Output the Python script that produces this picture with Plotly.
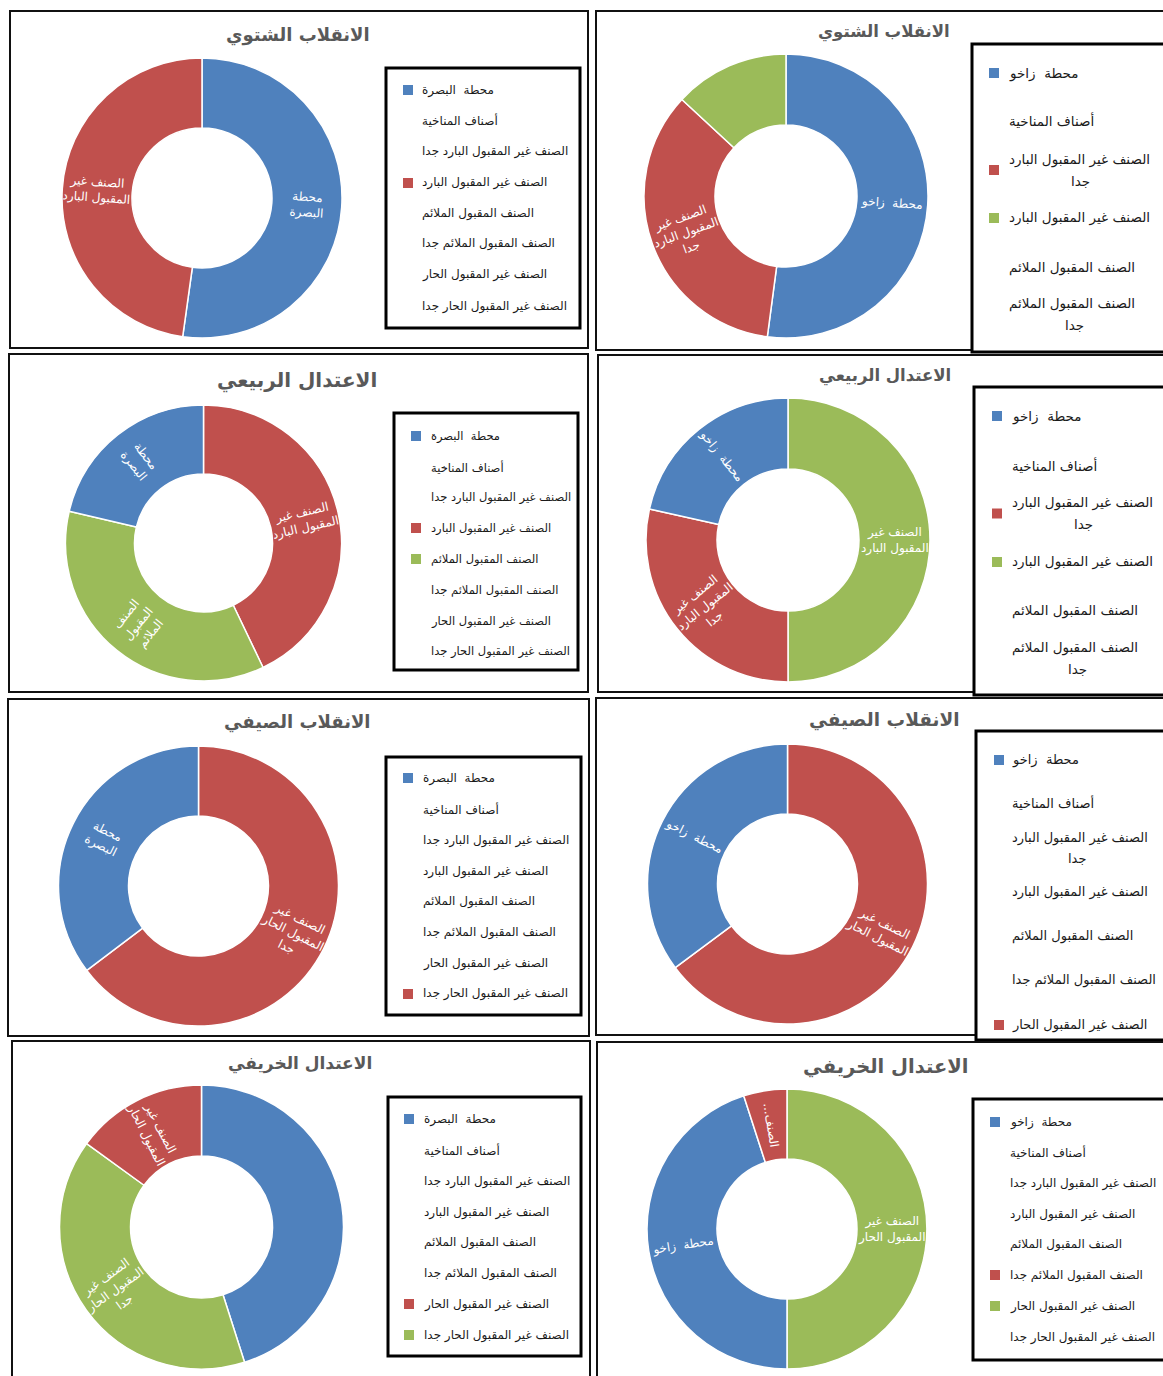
import math
import plotly.graph_objects as go

W, H = 1163, 1376
BLUE, RED, GREEN = "#4F81BD", "#C0504D", "#9BBB59"
FONT = "DejaVu Sans"

# ---------------- categories (legend order) ----------------
STATION_BASRA = "محطة  البصرة"
STATION_ZAKHO = "محطة  زاخو"
CLASS_HEADER = "أصناف المناخية"
VERY_COLD = "الصنف غير المقبول البارد جدا"
COLD = "الصنف غير المقبول البارد"
SUITABLE = "الصنف المقبول الملائم"
VERY_SUITABLE = "الصنف المقبول الملائم جدا"
HOT = "الصنف غير المقبول الحار"
VERY_HOT = "الصنف غير المقبول الحار جدا"
classes = [CLASS_HEADER, VERY_COLD, COLD, SUITABLE, VERY_SUITABLE, HOT, VERY_HOT]

# ---------------- titles ----------------
titles = ["الانقلاب الشتوي", "الانقلاب الشتوي",
          "الاعتدال الربيعي", "الاعتدال الربيعي",
          "الانقلاب الصيفي", "الانقلاب الصيفي",
          "الاعتدال الخريفي", "الاعتدال الخريفي"]
stations = [STATION_BASRA, STATION_ZAKHO] * 4

# ---------------- slice data (clockwise from 12 o'clock) ----------------
p1_labels = [STATION_BASRA, COLD]
p1_values = [52.2, 47.8]
p2_labels = [STATION_ZAKHO, VERY_COLD, COLD]
p2_values = [52.1, 34.8, 13.1]
p3_labels = [COLD, SUITABLE, STATION_BASRA]
p3_values = [42.9, 35.8, 21.3]
p4_labels = [COLD, VERY_COLD, STATION_ZAKHO]
p4_values = [50.0, 28.5, 21.5]
p5_labels = [VERY_HOT, STATION_BASRA]
p5_values = [64.7, 35.3]
p6_labels = [HOT, STATION_ZAKHO]
p6_values = [64.8, 35.2]
p7_labels = [STATION_BASRA, VERY_HOT, HOT]
p7_values = [45.1, 39.9, 15.0]
p8_labels = [HOT, STATION_ZAKHO, VERY_SUITABLE]
p8_values = [50.0, 45.0, 5.0]

# slice display texts
p1_text = ["محطة<br>البصرة", "الصنف غير<br>المقبول البارد"]
p2_text = ["محطة  زاخو", "الصنف غير<br>المقبول البارد<br>جدا", ""]
p3_text = ["الصنف غير<br>المقبول البارد", "الصنف<br>المقبول<br>الملائم", "محطة<br>البصرة"]
p4_text = ["الصنف غير<br>المقبول البارد", "الصنف غير<br>المقبول البارد<br>جدا", "محطة  زاخو"]
p5_text = ["الصنف غير<br>المقبول الحار<br>جدا", "محطة<br>البصرة"]
p6_text = ["الصنف غير<br>المقبول الحار", "محطة  زاخو"]
p7_text = ["", "الصنف غير<br>المقبول الحار<br>جدا", "الصنف غير<br>المقبول الحار"]
p8_text = ["الصنف غير<br>المقبول الحار", "محطة  زاخو", "\u200fالصنف...\u200f"]

p_labels = [p1_labels, p2_labels, p3_labels, p4_labels, p5_labels, p6_labels, p7_labels, p8_labels]
p_values = [p1_values, p2_values, p3_values, p4_values, p5_values, p6_values, p7_values, p8_values]
p_text = [p1_text, p2_text, p3_text, p4_text, p5_text, p6_text, p7_text, p8_text]

# ---------------- styles ----------------
p_colors = [[BLUE, RED], [BLUE, RED, GREEN], [RED, GREEN, BLUE], [GREEN, RED, BLUE],
            [RED, BLUE], [RED, BLUE], [BLUE, GREEN, RED], [GREEN, BLUE, RED]]

# panel frame (x0, y0, x1, y1), donut centre & radius, title (x, y, size)
panels = [
    dict(frame=(10, 11, 588, 348), c=(202, 198), r=140, title=(298, 35, 18)),
    dict(frame=(596, 11, 1170, 350), c=(786, 196), r=142, title=(884, 32, 16.5)),
    dict(frame=(9, 354, 588, 692), c=(203.5, 543), r=138, title=(297, 380, 20)),
    dict(frame=(598, 355, 1170, 692), c=(788, 540), r=142, title=(885, 376, 16.5)),
    dict(frame=(8, 699, 589, 1036), c=(198.5, 886), r=140, title=(297, 722, 18)),
    dict(frame=(596, 698, 1170, 1035), c=(787.5, 884), r=140, title=(884, 720, 18.5)),
    dict(frame=(12, 1041, 590, 1380), c=(201.5, 1227), r=142, title=(300, 1063, 17)),
    dict(frame=(597, 1042, 1170, 1380), c=(787, 1229), r=140, title=(885, 1066, 19.5)),
]

# legend: box, marker x, text x, font size, rows [y | (y line1, y line2, x centre line2)]
legends = [
    dict(box=(386, 68, 580, 328), mx=403, tx=420, fs=12,
         rows=[90, 121, 152, 183, 214, 244, 275, 306]),
    dict(box=(972, 44, 1175, 352), mx=989, tx=1007, fs=13.5,
         rows=[73, 121, (159, 181, 1080), 218, 267, (304, 325, 1074)]),
    dict(box=(394, 413, 578, 670), mx=411, tx=429, fs=11.5,
         rows=[436, 467, 498, 528, 559, 590, 621, 651]),
    dict(box=(974, 387, 1175, 695), mx=992, tx=1010, fs=13.5,
         rows=[416, 465, (503, 524, 1083), 562, 610, (648, 669, 1077)]),
    dict(box=(386, 757, 581, 1015), mx=403, tx=421, fs=12,
         rows=[778, 809, 840, 871, 901, 932, 963, 994]),
    dict(box=(976, 731, 1175, 1040), mx=994, tx=1010, fs=13,
         rows=[760, 803, (838, 858, 1077), 892, 936, 980, 1025]),
    dict(box=(388, 1097, 581, 1356), mx=404, tx=422, fs=12,
         rows=[1119, 1150, 1181, 1212, 1242, 1273, 1304, 1335]),
    dict(box=(973, 1099, 1175, 1360), mx=990, tx=1008, fs=12,
         rows=[1122, 1152, 1183, 1214, 1244, 1275, 1306, 1337]),
]


def fx(x):
    return x / W


def fy(y):
    return 1 - y / H


fig = go.Figure()
shapes = []
annotations = []

for i in range(8):
    P = panels[i]
    cx, cy = P["c"]
    r = P["r"]
    labels, values, colors, texts = p_labels[i], p_values[i], p_colors[i], p_text[i]

    # frame
    x0, y0, x1, y1 = P["frame"]
    shapes.append(dict(type="rect", xref="paper", yref="paper",
                       x0=fx(x0), x1=fx(x1), y0=fy(y1), y1=fy(y0),
                       line=dict(color="#111111", width=2), fillcolor="rgba(0,0,0,0)"))

    # donut
    fig.add_trace(go.Pie(
        labels=labels, values=values, hole=0.5, sort=False,
        direction="clockwise", rotation=0,
        marker=dict(colors=colors, line=dict(color="white", width=1.5)),
        textinfo="none", showlegend=False,
        domain=dict(x=[fx(cx - r), fx(cx + r)], y=[fy(cy + r), fy(cy - r)]),
        hovertemplate="%{label}: %{value}<extra></extra>",
    ))

    # slice labels at mid-angle / mid-ring, radial orientation
    total = float(sum(values))
    acc = 0.0
    for v, t in zip(values, texts):
        a0 = acc / total * 360
        acc += v
        a1 = acc / total * 360
        if not t:
            continue
        m = (a0 + a1) / 2
        rr = 0.75 * r
        lx = cx + rr * math.sin(math.radians(m))
        ly = cy - rr * math.cos(math.radians(m))
        ang = m - 90 if m < 180 else m - 270
        annotations.append(dict(x=fx(lx), y=fy(ly), xref="paper", yref="paper",
                                text=t, showarrow=False, textangle=ang,
                                font=dict(family=FONT, size=12, color="white"),
                                xanchor="center", yanchor="middle", align="center"))

    # title
    tx, ty, ts = P["title"]
    annotations.append(dict(x=fx(tx), y=fy(ty), xref="paper", yref="paper",
                            text="<b>" + titles[i] + "</b>", showarrow=False,
                            font=dict(family=FONT, size=ts, color="#595959"),
                            xanchor="center", yanchor="middle"))

    # legend
    L = legends[i]
    bx0, by0, bx1, by1 = L["box"]
    shapes.append(dict(type="rect", xref="paper", yref="paper",
                       x0=fx(bx0), x1=fx(bx1), y0=fy(by1), y1=fy(by0),
                       line=dict(color="black", width=3), fillcolor="white"))
    entries = [stations[i]] + classes
    for row, name in zip(L["rows"], entries):
        if isinstance(row, tuple):
            y1r, y2r, x2c = row
            first, second = name.rsplit(" ", 1)
            ym = (y1r + y2r) / 2
            annotations.append(dict(x=fx(L["tx"]), y=fy(y1r), xref="paper", yref="paper",
                                    text=first, showarrow=False,
                                    font=dict(family=FONT, size=L["fs"], color="#1a1a1a"),
                                    xanchor="left", yanchor="middle"))
            annotations.append(dict(x=fx(x2c), y=fy(y2r), xref="paper", yref="paper",
                                    text=second, showarrow=False,
                                    font=dict(family=FONT, size=L["fs"], color="#1a1a1a"),
                                    xanchor="center", yanchor="middle"))
        else:
            ym = row
            annotations.append(dict(x=fx(L["tx"]), y=fy(ym), xref="paper", yref="paper",
                                    text=name, showarrow=False,
                                    font=dict(family=FONT, size=L["fs"], color="#1a1a1a"),
                                    xanchor="left", yanchor="middle"))
        if name in labels:
            col = colors[labels.index(name)]
            mx = L["mx"]
            shapes.append(dict(type="rect", xref="paper", yref="paper",
                               x0=fx(mx), x1=fx(mx + 10), y0=fy(ym + 5), y1=fy(ym - 5),
                               line=dict(width=0), fillcolor=col))

fig.update_layout(width=W, height=H, margin=dict(l=0, r=0, t=0, b=0),
                  paper_bgcolor="white", plot_bgcolor="white",
                  shapes=shapes, annotations=annotations)

fig.write_html("out.html", config={"displayModeBar": False},
               post_script="document.body.style.margin='0px';document.body.style.overflow='hidden';")
